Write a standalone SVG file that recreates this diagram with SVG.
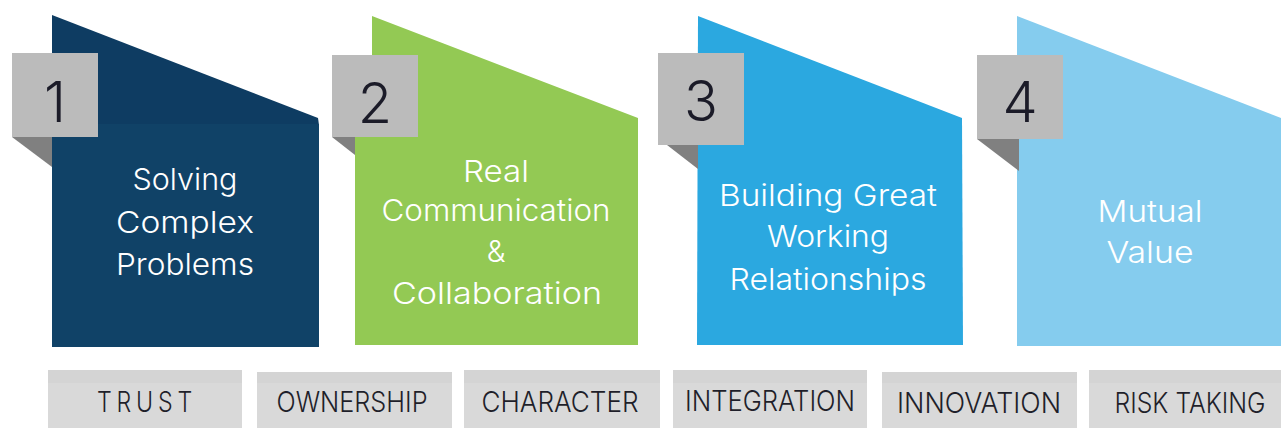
<svg xmlns="http://www.w3.org/2000/svg" width="1281" height="428" viewBox="0 0 1281 428">
<style>
.lbl{font-family:Inter,"Liberation Sans",Arial,sans-serif;font-weight:300;font-size:30px;fill:#ffffff;text-anchor:middle}
.num{font-family:Inter,"Liberation Sans",Arial,sans-serif;font-weight:300;font-size:56px;fill:#1b1b28;text-anchor:middle}
.numbox{fill:#bbbbbb}
.shadow{fill:#808080}
.tag{fill:#d9d9d9}
.tagtop{fill:#d4d4d4}
.tagtxt{font-family:Inter,"Liberation Sans",Arial,sans-serif;font-weight:300;font-size:29px;fill:#1f1f2a;text-anchor:middle}
</style>
<rect width="1281" height="428" fill="#ffffff"/>
<g id="step1">
<polygon points="52,15 318,118 319,125 52,125" fill="#0e3c62"/>
<rect x="52" y="124" width="267" height="223" fill="#104267"/>
<polygon class="shadow" points="12,137 52,137 52,167"/>
<rect class="numbox" x="12" y="53" width="86" height="84"/>
<text class="num" x="55" y="122">1</text>
<text class="lbl" x="185" y="190" textLength="105" lengthAdjust="spacingAndGlyphs">Solving</text>
<text class="lbl" x="185" y="233" textLength="138" lengthAdjust="spacingAndGlyphs">Complex</text>
<text class="lbl" x="185" y="275" textLength="138" lengthAdjust="spacingAndGlyphs">Problems</text>
</g>
<g id="step2">
<polygon points="372,16 638,118 638,345 355,345 355,128 372,128" fill="#93c954"/>
<polygon class="shadow" points="332,137 355,137 355,155"/>
<rect class="numbox" x="332" y="55" width="86" height="82"/>
<text class="num" x="375" y="123">2</text>
<text class="lbl" x="496" y="182" textLength="66" lengthAdjust="spacingAndGlyphs">Real</text>
<text class="lbl" x="496" y="221" textLength="229" lengthAdjust="spacingAndGlyphs">Communication</text>
<text class="lbl" x="496" y="262">&amp;</text>
<text class="lbl" x="497" y="304" textLength="210" lengthAdjust="spacingAndGlyphs">Collaboration</text>
</g>
<g id="step3">
<polygon points="698,16 962,118 963,345 697,345" fill="#2ba8e0"/>
<polygon class="shadow" points="667,145 698,145 698,169"/>
<rect class="numbox" x="658" y="53" width="86" height="92"/>
<text class="num" x="701" y="121">3</text>
<text class="lbl" x="828" y="206" textLength="218" lengthAdjust="spacingAndGlyphs">Building Great</text>
<text class="lbl" x="828" y="247" textLength="122" lengthAdjust="spacingAndGlyphs">Working</text>
<text class="lbl" x="828" y="290" textLength="197" lengthAdjust="spacingAndGlyphs">Relationships</text>
</g>
<g id="step4">
<polygon points="1017,16 1281,118 1281,346 1017,346" fill="#85ccee"/>
<polygon class="shadow" points="977,139 1019,139 1019,171"/>
<rect class="numbox" x="977" y="55" width="86" height="84"/>
<text class="num" x="1020" y="122">4</text>
<text class="lbl" x="1150" y="222" textLength="105" lengthAdjust="spacingAndGlyphs">Mutual</text>
<text class="lbl" x="1150" y="263" textLength="87" lengthAdjust="spacingAndGlyphs">Value</text>
</g>
<g id="tag-trust">
<rect class="tag" x="48" y="370" width="194" height="58"/>
<rect class="tagtop" x="48" y="370" width="194" height="13"/>
<text class="tagtxt" transform="translate(147,412) scale(0.8,1)" x="0" y="0" letter-spacing="6">TRUST</text>
</g>
<g id="tag-ownership">
<rect class="tag" x="257" y="372" width="195" height="56"/>
<rect class="tagtop" x="257" y="372" width="195" height="11"/>
<text class="tagtxt" x="352" y="412" textLength="151" lengthAdjust="spacingAndGlyphs">OWNERSHIP</text>
</g>
<g id="tag-character">
<rect class="tag" x="464" y="370" width="196" height="58"/>
<rect class="tagtop" x="464" y="370" width="196" height="13"/>
<text class="tagtxt" x="560" y="412" textLength="157" lengthAdjust="spacingAndGlyphs">CHARACTER</text>
</g>
<g id="tag-integration">
<rect class="tag" x="673" y="370" width="194" height="58"/>
<rect class="tagtop" x="673" y="370" width="194" height="13"/>
<text class="tagtxt" x="770" y="411" textLength="170" lengthAdjust="spacingAndGlyphs">INTEGRATION</text>
</g>
<g id="tag-innovation">
<rect class="tag" x="882" y="372" width="195" height="56"/>
<rect class="tagtop" x="882" y="372" width="195" height="11"/>
<text class="tagtxt" x="979" y="413" textLength="164" lengthAdjust="spacingAndGlyphs">INNOVATION</text>
</g>
<g id="tag-risk">
<rect class="tag" x="1089" y="370" width="192" height="58"/>
<rect class="tagtop" x="1089" y="370" width="192" height="13"/>
<text class="tagtxt" x="1190" y="413" textLength="151" lengthAdjust="spacingAndGlyphs">RISK TAKING</text>
</g>
<g id="connectors"></g>
</svg>
